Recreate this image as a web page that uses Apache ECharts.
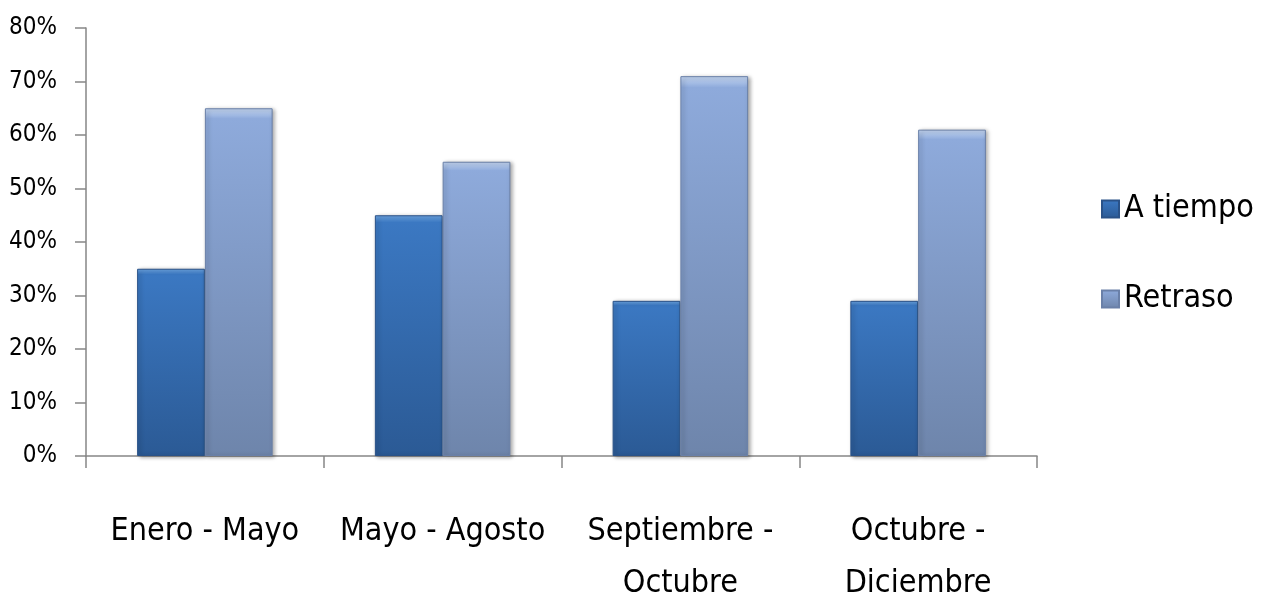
<!DOCTYPE html>
<html><head><meta charset="utf-8">
<script src="https://cdn.jsdelivr.net/npm/echarts@6/dist/echarts.min.js"></script>
<style>html,body{margin:0;padding:0;background:#fff}#c{width:1267px;height:601px}</style>
</head><body><div id="c"></div>
<script>
const categories = ['Enero - Mayo', 'Mayo - Agosto', 'Septiembre -\nOctubre', 'Octubre -\nDiciembre'];
const aTiempo = [35, 45, 29, 29];
const retraso = [65, 55, 71, 61];
const yTicks = [0, 10, 20, 30, 40, 50, 60, 70, 80];

const FONT = "'Liberation Sans Narrow', 'DejaVu Sans Condensed', sans-serif";
function grad(top, mid, bot) {
  return new echarts.graphic.LinearGradient(0, 0, 0, 1, [
    {offset: 0, color: top}, {offset: 0.03, color: mid}, {offset: 1, color: bot}
  ]);
}
const chart = echarts.init(document.getElementById('c'), null, {renderer: 'canvas'});
chart.setOption({
  animation: false,
  grid: {left: 86, right: 230, top: 28, bottom: 145, containLabel: false, outerBoundsMode: 'none'},
  legend: {
    orient: 'vertical', left: 1096, top: 188, itemGap: 58,
    itemWidth: 17, itemHeight: 17, icon: 'rect',
    textStyle: {fontFamily: FONT, fontSize: 32, color: '#000'},
    data: ['A tiempo', 'Retraso']
  },
  xAxis: {
    type: 'category', data: categories,
    axisLine: {lineStyle: {color: '#868686', width: 1.5}},
    axisTick: {show: true, length: 12, alignWithLabel: false, lineStyle: {color: '#868686', width: 1.5}},
    axisLabel: {interval: 0, fontFamily: FONT, fontSize: 32, color: '#000', margin: 50, lineHeight: 52}
  },
  yAxis: {
    type: 'value', min: yTicks[0], max: yTicks[yTicks.length - 1], interval: 10,
    axisLine: {show: true, lineStyle: {color: '#868686', width: 1.5}},
    axisTick: {show: true, length: 11, lineStyle: {color: '#868686', width: 1.5}},
    splitLine: {show: false},
    axisLabel: {fontFamily: FONT, fontSize: 24, color: '#000', margin: 29, formatter: v => v + '%'}
  },
  series: [
    {
      name: 'A tiempo', type: 'bar', data: aTiempo, barGap: '0%', barCategoryGap: '43%',
      itemStyle: {color: grad('#6fa8e6', '#3b78c2', '#2b5a95'), borderColor: '#2a5288', borderWidth: 1,
        shadowBlur: 4, shadowOffsetX: 2, shadowOffsetY: 1, shadowColor: 'rgba(0,0,0,0.35)'}
    },
    {
      name: 'Retraso', type: 'bar', data: retraso,
      itemStyle: {color: grad('#c6d8f3', '#8eaadb', '#6e85ab'), borderColor: '#6a80a8', borderWidth: 1,
        shadowBlur: 4, shadowOffsetX: 2, shadowOffsetY: 1, shadowColor: 'rgba(0,0,0,0.35)'}
    }
  ]
});
</script></body></html>
